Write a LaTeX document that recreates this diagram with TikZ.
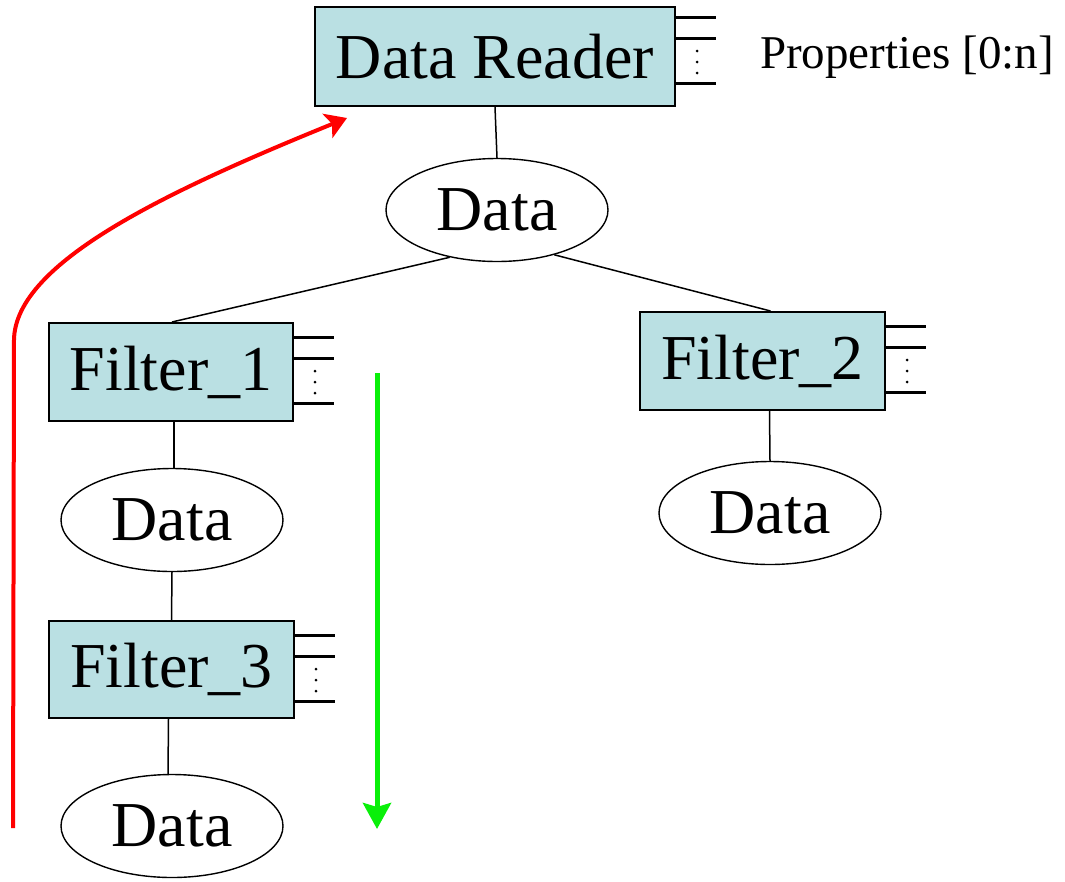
\documentclass[tikz,border=0pt]{standalone}
\usepackage{fontspec}
\setmainfont{Liberation Serif}
\usetikzlibrary{shapes.geometric,arrows.meta}

\definecolor{boxfill}{RGB}{186,224,227}
\definecolor{flowred}{RGB}{255,0,0}
\definecolor{flowgreen}{RGB}{10,240,10}

\tikzset{
  blockbox/.style={draw=black, line width=2pt, fill=boxfill, rectangle,
    inner sep=0pt, font=\fontsize{64}{70}\selectfont},
  dataoval/.style={draw=black, line width=1.4pt, ellipse, inner sep=0pt,
    minimum width=222pt, minimum height=103pt, font=\fontsize{64}{70}\selectfont},
  conn/.style={draw=black, line width=1.5pt},
  pinline/.style={draw=black, line width=3pt},
  upflow/.style={draw=flowred, line width=4pt,
    -{Stealth[length=21pt, width=26pt, inset=5pt]}},
  downflow/.style={draw=flowgreen, line width=5pt,
    -{Stealth[length=26pt, width=28pt, inset=4pt]}},
}

\begin{document}
\begin{tikzpicture}[x=1pt, y=-1pt]
  \useasboundingbox (0,0) rectangle (1065,881);

  % processing objects
  \node[blockbox, minimum width=360pt, minimum height=99pt] (rd) at (495,56.5) {Data Reader};
  \node[blockbox, minimum width=244pt, minimum height=98pt] (f1) at (171,372) {Filter\_1};
  \node[blockbox, minimum width=245pt, minimum height=98pt] (f2) at (762.5,361) {Filter\_2};
  \node[blockbox, minimum width=245pt, minimum height=97pt] (f3) at (171.5,669.5) {Filter\_3};

  % data objects
  \node[dataoval] (d0) at (497,210) {Data};
  \node[dataoval] (d1) at (172,520) {Data};
  \node[dataoval] (d2) at (770,513) {Data};
  \node[dataoval] (d3) at (172,826) {Data};

  \node[anchor=west, inner sep=0pt, font=\fontsize{47}{52}\selectfont]
    (props) at (760,57) {Properties [0:n]};

  % property pins on the right side of each object
  \foreach \b/\o in {rd/-4, f1/0, f2/0, f3/0} {
    \draw[pinline] ([yshift={-(15+\o)*1pt}]\b.north east) -- ++(40,0);
    \draw[pinline] ([yshift={-(36+\o)*1pt}]\b.north east) -- ++(40,0);
    \draw[pinline] ([yshift={-(81+\o)*1pt}]\b.north east) -- ++(40,0);
    \foreach \d in {49,60,71}
      \fill ([xshift=21pt, yshift={-(\d+\o)*1pt}]\b.north east) circle (1.5pt);
  }

  % pipeline connections
  \draw[conn] (rd.south) -- (d0.north);
  \draw[conn] (d0.-135) -- ([xshift=1pt]f1.north);
  \draw[conn] (d0.-38) -- ([xshift=8pt]f2.north);
  \draw[conn] ([xshift=7pt]f2.south) -- (d2.north);
  \draw[conn] ([xshift=3pt]f1.south) -- ([xshift=2pt]d1.north);
  \draw[conn] (d1.south) -- (f3.north);
  \draw[conn] ([xshift=-3pt]f3.south) -- ([xshift=-4pt]d3.north);

  % request and execution flow
  \coordinate (reqstart) at (13,828);
  \coordinate (reqbend) at (14,340);
  \coordinate (reqend) at (347,118);
  \draw[upflow] (reqstart) -- (reqbend)
    .. controls (15,262) and (170,190) .. (reqend);

  \coordinate (exstart) at (377,373);
  \coordinate (exend) at (377,829);
  \draw[downflow] (exstart) -- (exend);
\end{tikzpicture}
\end{document}
